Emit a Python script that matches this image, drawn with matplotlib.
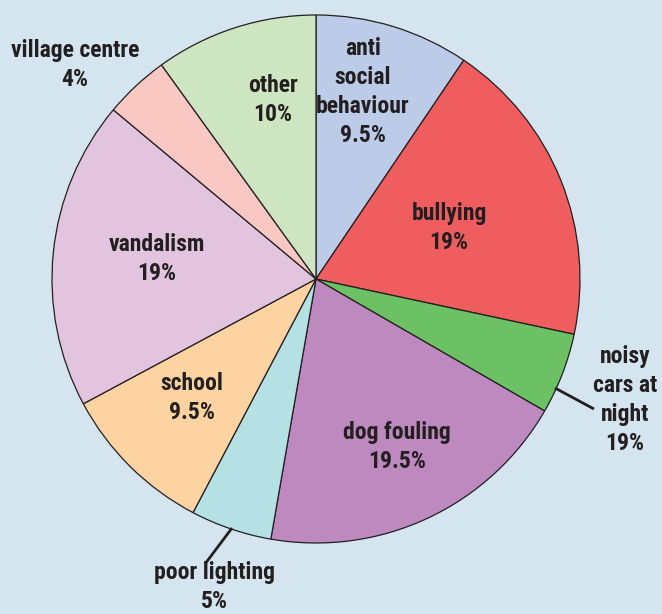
import matplotlib
matplotlib.use("Agg")
import matplotlib.pyplot as plt
from matplotlib import font_manager

categories = ["anti\nsocial\nbehaviour", "bullying", "noisy\ncars at\nnight", "dog fouling",
              "poor lighting", "school", "vandalism", "village centre", "other"]
values = [9.5, 19, 5, 19.5, 5, 9.5, 19, 4, 10]
value_labels = ["9.5%", "19%", "19%", "19.5%", "5%", "9.5%", "19%", "4%", "10%"]
colors = ["#bccce8", "#f05d5e", "#6bc163", "#bd89bf", "#b5e0e4",
          "#fed3a2", "#e2c4df", "#f9c8c3", "#cde5c0"]

W, H = 662, 614
bg = "#d5e5f0"
txt = "#231f20"

names = {f.name for f in font_manager.fontManager.ttflist}
fam = [f for f in ["Roboto Condensed", "Liberation Sans Narrow", "Liberation Sans"] if f in names] + ["DejaVu Sans"]
fs = 17
ls = 1.32

fig = plt.figure(figsize=(W / 100, H / 100), dpi=100, facecolor=bg)
ax = fig.add_axes([0, 0, 1, 1])
ax.set_facecolor(bg)

cx, cy, r = 316, H - 279, 264
ax.pie(values, colors=colors, startangle=90, counterclock=False,
       center=(cx, cy), radius=r,
       wedgeprops=dict(edgecolor=txt, linewidth=0.9), frame=True)
ax.set_xlim(0, W)
ax.set_ylim(0, H)
ax.set_aspect("equal")
ax.axis("off")

# label positions in pixel coordinates (x, y from top)
label_pos = [(363, 92), (449, 228), (625, 400), (397, 447), (214, 587),
             (192, 398), (157, 259), (75, 65), (273, 100)]
for cat, vl, (x, y) in zip(categories, value_labels, label_pos):
    ax.text(x, H - y, f"{cat}\n{vl}", ha="center", va="center", fontsize=fs,
            fontweight="bold", color=txt, family=fam, linespacing=ls)

# leader lines
ax.plot([555, 594], [H - 388, H - 409], color=txt, lw=2, solid_capstyle="butt")
ax.plot([232, 205], [H - 528, H - 564], color=txt, lw=2, solid_capstyle="butt")

fig.savefig("out.png", dpi=100, facecolor=bg)
